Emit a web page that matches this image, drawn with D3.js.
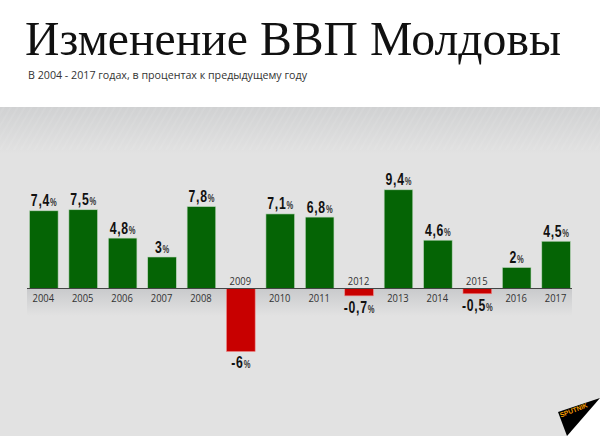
<!DOCTYPE html>
<html><head><meta charset="utf-8">
<script src="https://cdnjs.cloudflare.com/ajax/libs/d3/7.8.5/d3.min.js"></script>
<style>html,body{margin:0;padding:0;background:#fff}svg{display:block}</style>
</head><body><svg id="c" width="600" height="436"></svg>
<script>
const years=["2004","2005","2006","2007","2008","2009","2010","2011","2012","2013","2014","2015","2016","2017"];
const values=[7.4,7.5,4.8,3,7.8,-6,7.1,6.8,-0.7,9.4,4.6,-0.5,2,4.5];
const labels=["7,4","7,5","4,8","3","7,8","-6","7,1","6,8","-0,7","9,4","4,6","-0,5","2","4,5"];
const titleText="Изменение ВВП Молдовы";
const subtitleText="В 2004 - 2017 годах, в процентах к предыдущему году";
const GREEN="#056405",RED="#c80000";
const svg=d3.select("#c");
const defs=svg.append("defs");
const g1=defs.append("linearGradient").attr("id","top").attr("x1",0).attr("x2",0).attr("y1",0).attr("y2",1);
g1.append("stop").attr("offset",0).attr("stop-color","#d0d1d2");
g1.append("stop").attr("offset",1).attr("stop-color","#e2e2e2");
const g2=defs.append("linearGradient").attr("id","band").attr("x1",0).attr("x2",0).attr("y1",0).attr("y2",1);
g2.append("stop").attr("offset",0).attr("stop-color","#c9cacc");
g2.append("stop").attr("offset",1).attr("stop-color","#e2e2e2");
const hatch=defs.append("pattern").attr("id","hatch").attr("width",6).attr("height",6).attr("patternUnits","userSpaceOnUse").attr("patternTransform","rotate(-60)");
hatch.append("line").attr("x1",0).attr("x2",6).attr("y1",3).attr("y2",3).attr("stroke","#fff").attr("stroke-opacity",0.09).attr("stroke-width",1.4);
svg.append("rect").attr("x",0).attr("y",107).attr("width",600).attr("height",329).attr("fill","#e2e2e2");
svg.append("rect").attr("x",0).attr("y",107).attr("width",600).attr("height",47).attr("fill","url(#top)");
svg.append("rect").attr("x",0).attr("y",107).attr("width",600).attr("height",43).attr("fill","url(#hatch)");
svg.append("rect").attr("x",27).attr("y",289).attr("width",545).attr("height",27).attr("fill","url(#band)");
const x=d3.scaleBand().domain(years).range([29.5,570.4]).paddingInner(0.274).paddingOuter(0);
const y=d3.scaleLinear().domain([0,1]).range([288.5,278]);
svg.selectAll("rect.bar").data(years).join("rect").attr("class","bar")
 .attr("x",d=>x(d)).attr("width",x.bandwidth())
 .attr("y",(d,i)=>Math.min(y(0),y(values[i])))
 .attr("height",(d,i)=>Math.abs(y(values[i])-y(0)))
 .attr("fill",(d,i)=>values[i]<0?RED:GREEN)
 .attr("stroke",(d,i)=>values[i]<0?"#e88":"#bcd6bc").attr("stroke-width",0.6);
svg.append("line").attr("x1",27).attr("x2",572).attr("y1",288.5).attr("y2",288.5).attr("stroke","#444").attr("stroke-width",1);
svg.selectAll("text.yr").data(years).join("text").attr("class","yr")
 .attr("x",d=>x(d)+x.bandwidth()/2-0.5)
 .attr("y",(d,i)=>values[i]<0?284.5:301.5)
 .attr("text-anchor","middle").attr("font-family","'Open Sans','Noto Sans',sans-serif")
 .attr("font-size",10.3).attr("fill","#333").attr("textLength",21.5).attr("lengthAdjust","spacingAndGlyphs").text(d=>d);
const vl=svg.selectAll("text.val").data(years).join("text").attr("class","val")
 .attr("transform",(d,i)=>`translate(${x(d)+x.bandwidth()/2},${values[i]<0?y(values[i])+16.8:y(values[i])-4.5}) scale(0.72,1)`)
 .attr("text-anchor","middle").attr("font-family","'Liberation Sans',sans-serif")
 .attr("font-weight",700).attr("fill","#111");
vl.append("tspan").attr("font-size",17).attr("letter-spacing",1).text((d,i)=>labels[i]);
vl.append("tspan").attr("font-size",10.5).attr("fill","#333").text("%");
svg.append("text").attr("x",25).attr("y",55).attr("font-family","'Liberation Serif',serif").attr("font-size",49.5).attr("fill","#111").attr("textLength",536).attr("lengthAdjust","spacingAndGlyphs").text(titleText);
svg.append("text").attr("x",28).attr("y",79).attr("font-family","'Open Sans',sans-serif").attr("font-size",11.4).attr("fill","#333").attr("textLength",279).attr("lengthAdjust","spacingAndGlyphs").text(subtitleText);
svg.append("path").attr("d",d3.line()([[600,436],[600,398],[567,436]])).attr("fill","#fff");
svg.append("path").attr("d",d3.line()([[600,398],[558,412],[567,436]])).attr("fill","#000");
svg.append("text").attr("transform","translate(561,417.5) rotate(-21)").attr("font-family","'Liberation Sans',sans-serif").attr("font-weight",700).attr("font-size",6.8).attr("fill","#f29a00").attr("textLength",29).attr("lengthAdjust","spacingAndGlyphs").text("SPUTNIK");
</script></body></html>
